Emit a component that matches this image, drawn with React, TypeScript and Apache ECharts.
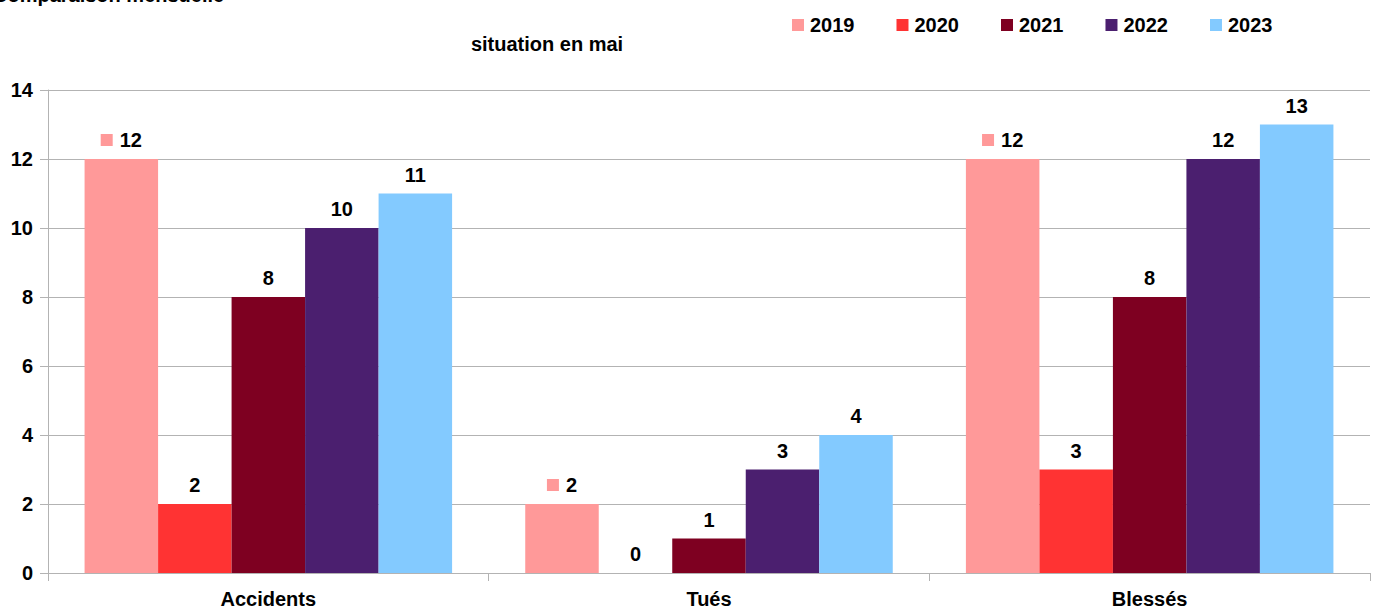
import React, { useEffect, useRef } from "react";
import * as echarts from "echarts";

const categories = ["Accidents", "Tués", "Blessés"];
const years = ["2019", "2020", "2021", "2022", "2023"];
const colors = ["#ff9999", "#ff3333", "#7e0021", "#4b1f6f", "#83caff"];
const v2019 = [12, 2, 12];
const v2020 = [2, 0, 3];
const v2021 = [8, 1, 8];
const v2022 = [10, 3, 12];
const v2023 = [11, 4, 13];
const seriesValues = [v2019, v2020, v2021, v2022, v2023];
const yTicks = { min: 0, max: 14, interval: 2 };
const titleText = "Comparaison mensuelle";
const subtitleText = "situation en mai";

const FONT = "'Liberation Sans', Arial, sans-serif";

export default function App() {
  const ref = useRef<HTMLDivElement>(null);
  useEffect(() => {
    if (!ref.current) return;
    const chart = echarts.init(ref.current, null, { renderer: "svg" });
    const series = years.map((y, i) => ({
      name: y,
      type: "bar",
      data: seriesValues[i],
      barGap: "0%",
      barCategoryGap: "16.6%",
      itemStyle: { color: colors[i] },
      label: {
        show: true,
        position: "top",
        distance: 9,
        color: "#000",
        fontFamily: FONT,
        fontWeight: "bold",
        fontSize: 20,
        formatter:
          i === 0
            ? (p: any) => `{sq|}{v|${p.value}}`
            : "{c}",
        rich:
          i === 0
            ? {
                sq: {
                  width: 12,
                  height: 12,
                  backgroundColor: colors[0],
                  padding: 0,
                },
                v: {
                  color: "#000",
                  fontFamily: FONT,
                  fontWeight: "bold",
                  fontSize: 20,
                  padding: [0, 0, 0, 7],
                },
              }
            : undefined,
      },
    }));
    chart.setOption({
      animation: false,
      textStyle: { fontFamily: FONT },
      graphic: [
        {
          type: "text",
          left: -7,
          top: -15,
          style: {
            text: titleText,
            fill: "#000",
            font: `bold 20px ${FONT}`,
          },
        },
        {
          type: "text",
          x: 547,
          y: 44,
          style: {
            text: subtitleText,
            fill: "#000",
            font: `bold 20px ${FONT}`,
            textAlign: "center",
            textVerticalAlign: "middle",
          },
        },
      ],
      legend: {
        left: 787,
        top: 10,
        icon: "rect",
        itemWidth: 12,
        itemHeight: 12,
        itemGap: 42,
        textStyle: {
          color: "#000",
          fontFamily: FONT,
          fontWeight: "bold",
          fontSize: 20,
          padding: [0, 0, 0, 1],
        },
        data: years,
      },
      grid: { left: 48, right: 5, top: 90, bottom: 39, containLabel: false },
      xAxis: {
        type: "category",
        data: categories,
        axisLine: { show: true, lineStyle: { color: "#b3b3b3", width: 1 } },
        axisTick: { show: true, length: 8, lineStyle: { color: "#b3b3b3" } },
        axisLabel: {
          color: "#000",
          fontFamily: FONT,
          fontWeight: "bold",
          fontSize: 20,
          margin: 16,
        },
      },
      yAxis: {
        type: "value",
        min: yTicks.min,
        max: yTicks.max,
        interval: yTicks.interval,
        axisLine: { show: true, lineStyle: { color: "#b3b3b3", width: 1 } },
        axisTick: { show: true, length: 8, lineStyle: { color: "#b3b3b3" } },
        splitLine: { show: true, lineStyle: { color: "#b3b3b3", width: 1 } },
        axisLabel: {
          color: "#000",
          fontFamily: FONT,
          fontWeight: "bold",
          fontSize: 20,
          margin: 15,
        },
      },
      series,
    });
    return () => chart.dispose();
  }, []);
  return <div ref={ref} style={{ width: 1375, height: 612, position: "absolute", left: 0, top: 0 }} />;
}
